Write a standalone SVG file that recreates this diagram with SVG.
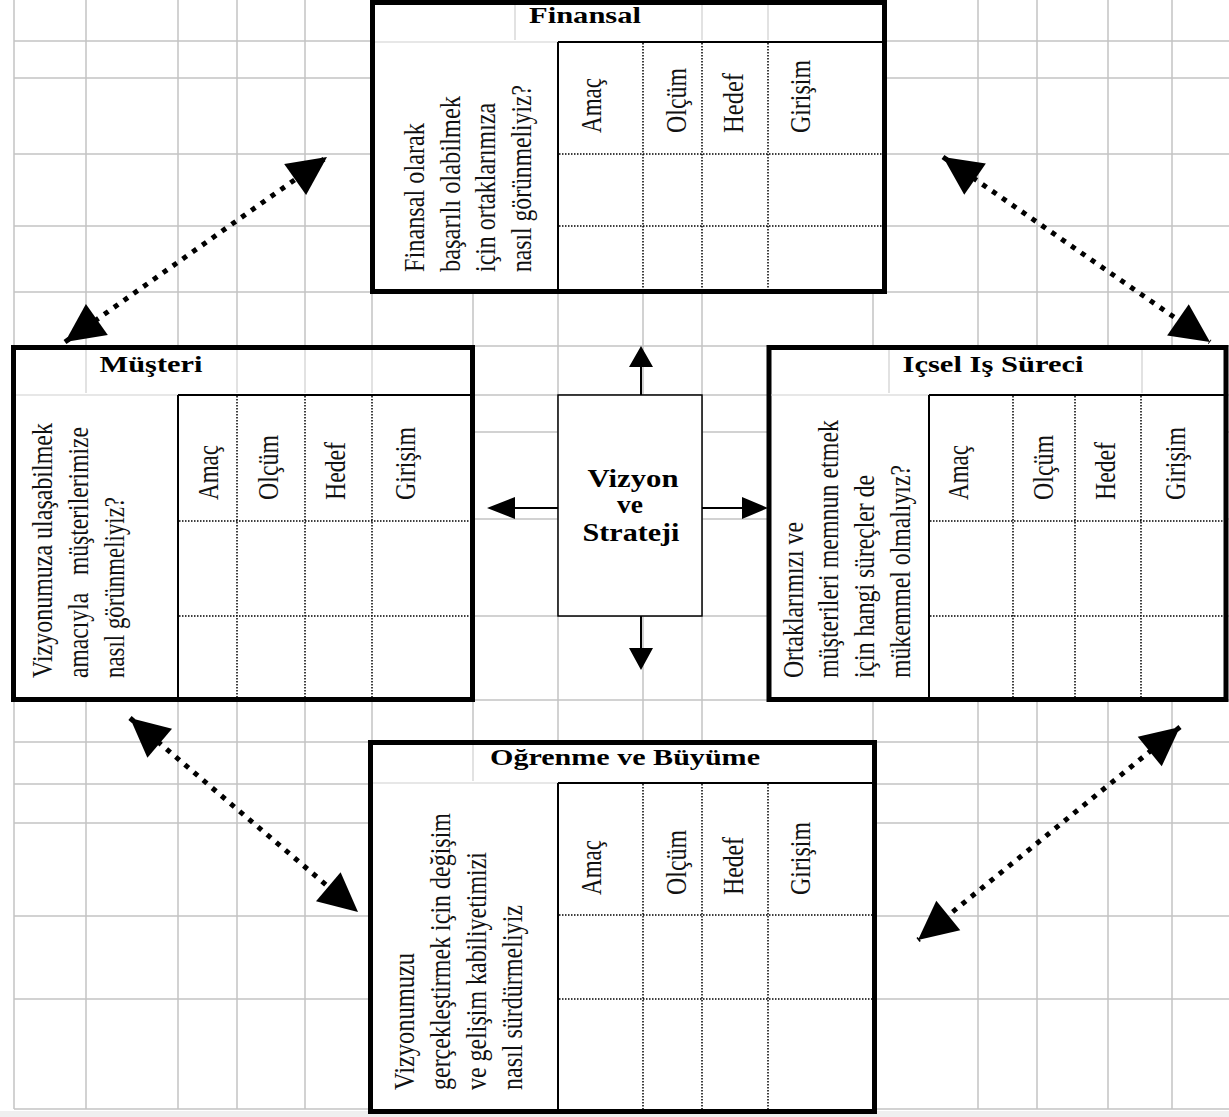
<svg xmlns="http://www.w3.org/2000/svg" width="1229" height="1117" viewBox="0 0 1229 1117">
<style>
.grid{stroke:#c4c4c4;stroke-width:1.5;fill:none}
.hgrid{stroke:#cfcfcf;stroke-width:1.2;fill:none}
.box{fill:#fff;stroke:#000;stroke-width:5}
.tbl{stroke:#000;stroke-width:2;fill:none}
.dot{stroke:#000;stroke-width:1.5;stroke-dasharray:1.5 1.5;fill:none}
.txt{font-family:"Liberation Serif","Times New Roman",serif;font-size:30px;fill:#111;white-space:pre}
.ttl{font-family:"Liberation Serif","Times New Roman",serif;font-size:24px;font-weight:bold;fill:#000;text-anchor:middle}
.ctr{font-family:"Liberation Serif","Times New Roman",serif;font-size:25px;font-weight:bold;fill:#000;text-anchor:middle}
.solid{stroke:#000;stroke-width:2;fill:none}
.dash{stroke:#000;stroke-width:5;stroke-dasharray:5 7;fill:none;marker-start:url(#big);marker-end:url(#big)}
</style>
<defs>
<marker id="big" markerUnits="userSpaceOnUse" markerWidth="42" markerHeight="40" refX="40" refY="20" orient="auto-start-reverse" overflow="visible">
<path d="M40,20 L1,1 L1,39 Z" fill="#000"/>
</marker>
</defs>
<rect x="0" y="0" width="1229" height="1117" fill="#fff"/>
<rect x="0" y="1111" width="1229" height="6" fill="#efefef"/>
<g id="grid">
<path class="grid" d="M14,0V1109 M86,0V1109 M178,0V1109 M237,0V1109 M305,0V1109 M372,0V1109 M473,0V1109 M558,0V1109 M643,0V1109 M702,0V1109 M873,0V1109 M978,0V1109 M1037,0V1109 M1108,0V1109 M1172,0V1109"/>
<path class="grid" d="M14,41H1229 M14,78H1229 M14,154H1229 M14,226H1229 M14,292H1229 M14,346H1229 M14,395H1229 M14,432H1229 M14,519H1229 M14,616H1229 M14,700H1229 M14,742H1229 M14,784H1229 M14,823H1229 M14,916H1229 M14,999H1229 M14,1109H1229"/>
</g>

<g id="finansal">
<rect class="box" x="372.5" y="2.5" width="512" height="289"/>
<path class="hgrid" d="M515,5V40 M702,5V40 M768,5V40 M375,42H558"/>
<path class="tbl" d="M558,42H883 M558,42V289"/>
<path class="dot" d="M643,43V289 M702,43V289 M768,43V289 M559,154H883 M559,226H883"/>
<text class="ttl" x="585" y="23" textLength="112" lengthAdjust="spacingAndGlyphs">Finansal</text>
<text class="txt" transform="translate(424,272) rotate(-90)" textLength="149" lengthAdjust="spacingAndGlyphs">Finansal olarak</text>
<text class="txt" transform="translate(460,272) rotate(-90)" textLength="176" lengthAdjust="spacingAndGlyphs">başarılı olabilmek</text>
<text class="txt" transform="translate(495,272) rotate(-90)" textLength="169" lengthAdjust="spacingAndGlyphs">için ortaklarımıza</text>
<text class="txt" transform="translate(531,272) rotate(-90)" textLength="187" lengthAdjust="spacingAndGlyphs">nasıl görünmeliyiz?</text>
<text class="txt" transform="translate(601,133) rotate(-90)" textLength="55" lengthAdjust="spacingAndGlyphs">Amaç</text>
<text class="txt" transform="translate(686,133) rotate(-90)" textLength="65" lengthAdjust="spacingAndGlyphs">Olçüm</text>
<text class="txt" transform="translate(743,133) rotate(-90)" textLength="60" lengthAdjust="spacingAndGlyphs">Hedef</text>
<text class="txt" transform="translate(810,133) rotate(-90)" textLength="73" lengthAdjust="spacingAndGlyphs">Girişim</text>
</g>

<g id="musteri">
<rect class="box" x="13.5" y="347.5" width="459" height="352"/>
<path class="hgrid" d="M86,350V393 M237,350V393 M305,350V393 M372,350V393 M16,395H178"/>
<path class="tbl" d="M178,395H470 M178,395V697"/>
<path class="dot" d="M237,396V697 M305,396V697 M372,396V697 M179,521H470 M179,616H470"/>
<text class="ttl" x="151" y="372" textLength="103" lengthAdjust="spacingAndGlyphs">Müşteri</text>
<text class="txt" transform="translate(52,678) rotate(-90)" textLength="255" lengthAdjust="spacingAndGlyphs">Vizyonumuza ulaşabilmek</text>
<text class="txt" transform="translate(88,678) rotate(-90)" textLength="251" lengthAdjust="spacingAndGlyphs">amacıyla   müşterilerimize</text>
<text class="txt" transform="translate(124,678) rotate(-90)" textLength="181" lengthAdjust="spacingAndGlyphs">nasıl görünmeliyiz?</text>
<text class="txt" transform="translate(218,500) rotate(-90)" textLength="55" lengthAdjust="spacingAndGlyphs">Amaç</text>
<text class="txt" transform="translate(278,500) rotate(-90)" textLength="65" lengthAdjust="spacingAndGlyphs">Olçüm</text>
<text class="txt" transform="translate(345,500) rotate(-90)" textLength="58" lengthAdjust="spacingAndGlyphs">Hedef</text>
<text class="txt" transform="translate(415,500) rotate(-90)" textLength="73" lengthAdjust="spacingAndGlyphs">Girişim</text>
</g>

<g id="icsel">
<rect class="box" x="769" y="347.5" width="457" height="352"/>
<path class="hgrid" d="M889,350V393 M1142,350V393 M771,395H929"/>
<path class="tbl" d="M929,395H1224 M929,395V697"/>
<path class="dot" d="M1013,396V697 M1075,396V697 M1141,396V697 M930,521H1224 M930,616H1224"/>
<text class="ttl" x="993" y="372" textLength="181" lengthAdjust="spacingAndGlyphs">Içsel Iş Süreci</text>
<text class="txt" transform="translate(803,678) rotate(-90)" textLength="156" lengthAdjust="spacingAndGlyphs">Ortaklarımızı ve</text>
<text class="txt" transform="translate(838,678) rotate(-90)" textLength="258" lengthAdjust="spacingAndGlyphs">müşterileri memnun etmek</text>
<text class="txt" transform="translate(874,678) rotate(-90)" textLength="203" lengthAdjust="spacingAndGlyphs">için hangi süreçler de</text>
<text class="txt" transform="translate(910,678) rotate(-90)" textLength="213" lengthAdjust="spacingAndGlyphs">mükemmel olmalıyız?</text>
<text class="txt" transform="translate(968,500) rotate(-90)" textLength="55" lengthAdjust="spacingAndGlyphs">Amaç</text>
<text class="txt" transform="translate(1053,500) rotate(-90)" textLength="65" lengthAdjust="spacingAndGlyphs">Olçüm</text>
<text class="txt" transform="translate(1115,500) rotate(-90)" textLength="58" lengthAdjust="spacingAndGlyphs">Hedef</text>
<text class="txt" transform="translate(1185,500) rotate(-90)" textLength="73" lengthAdjust="spacingAndGlyphs">Girişim</text>
</g>

<g id="ogrenme">
<rect class="box" x="370.5" y="742.5" width="504" height="369"/>
<path class="hgrid" d="M473,745V781 M373,783H558"/>
<path class="tbl" d="M558,783H872 M558,783V1109"/>
<path class="dot" d="M643,784V1109 M702,784V1109 M768,784V1109 M559,915H872 M559,999H872"/>
<text class="ttl" x="625" y="765" textLength="270" lengthAdjust="spacingAndGlyphs">Oğrenme ve Büyüme</text>
<text class="txt" transform="translate(414,1090) rotate(-90)" textLength="137" lengthAdjust="spacingAndGlyphs">Vizyonumuzu</text>
<text class="txt" transform="translate(450,1090) rotate(-90)" textLength="277" lengthAdjust="spacingAndGlyphs">gerçekleştirmek için değişim</text>
<text class="txt" transform="translate(486,1090) rotate(-90)" textLength="238" lengthAdjust="spacingAndGlyphs">ve gelişim kabiliyetimizi</text>
<text class="txt" transform="translate(522,1090) rotate(-90)" textLength="185" lengthAdjust="spacingAndGlyphs">nasıl sürdürmeliyiz</text>
<text class="txt" transform="translate(601,895) rotate(-90)" textLength="55" lengthAdjust="spacingAndGlyphs">Amaç</text>
<text class="txt" transform="translate(686,895) rotate(-90)" textLength="65" lengthAdjust="spacingAndGlyphs">Olçüm</text>
<text class="txt" transform="translate(743,895) rotate(-90)" textLength="58" lengthAdjust="spacingAndGlyphs">Hedef</text>
<text class="txt" transform="translate(810,895) rotate(-90)" textLength="73" lengthAdjust="spacingAndGlyphs">Girişim</text>
</g>

<g id="vizyon">
<rect x="558" y="395" width="144" height="221" fill="#fff" stroke="#000" stroke-width="1.5"/>
<text class="ctr" x="633" y="487" textLength="91" lengthAdjust="spacingAndGlyphs">Vizyon</text>
<text class="ctr" x="630" y="513" textLength="26" lengthAdjust="spacingAndGlyphs">ve</text>
<text class="ctr" x="631" y="541" textLength="97" lengthAdjust="spacingAndGlyphs">Strateji</text>
</g>

<g id="connectors">
<path class="solid" d="M641,395V366 M641,616V649 M558,508H514 M702,508H743"/>
<path d="M641,346 L629,367 L653,367 Z M641,670 L629,648 L653,648 Z M487,508 L515,497 L515,519 Z M768,508 L742,497 L742,519 Z" fill="#000"/>
<line class="dash" x1="65" y1="342" x2="327" y2="157"/>
<line class="dash" x1="943" y1="157" x2="1210" y2="342"/>
<line class="dash" x1="130" y1="718" x2="358" y2="912"/>
<line class="dash" x1="1180" y1="727" x2="918" y2="940"/>
</g>
</svg>
